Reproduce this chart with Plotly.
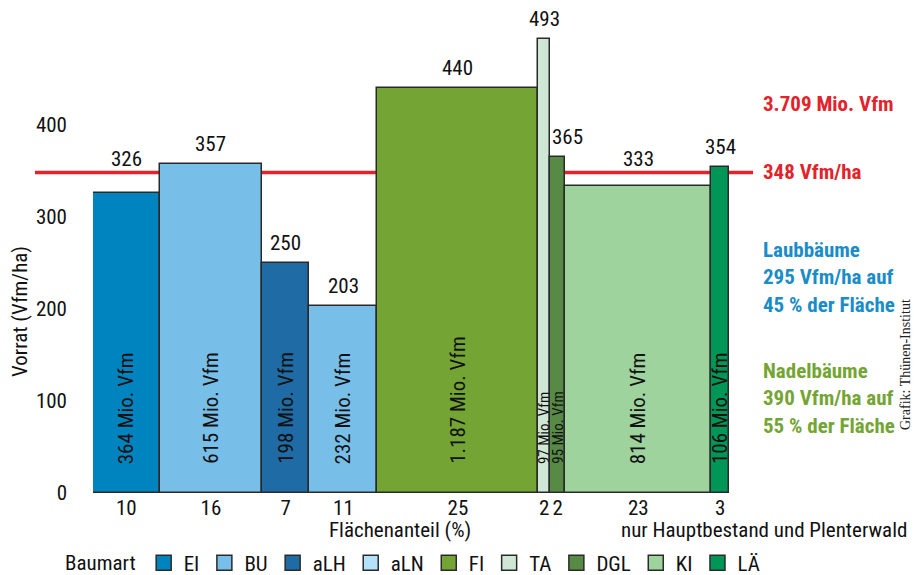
import plotly.graph_objects as go

# ---------------- data ----------------
species = ["EI", "BU", "aLH", "aLN", "FI", "TA", "DGL", "KI", "LÄ"]
vorrat_ha = [326, 357, 250, 203, 440, 493, 365, 333, 354]          # Vfm/ha
vorrat_mio = [364, 615, 198, 232, 1187, 97, 95, 814, 106]           # Mio. Vfm
vorrat_mio_text = ["364", "615", "198", "232", "1.187", "97", "95", "814", "106"]
flaeche_pct = [10, 16, 7, 11, 25, 2, 2, 23, 3]                      # Flächenanteil (%)
mittel_ha = 348
gesamt_text = "3.709 Mio. Vfm"
laub_text = ["Laubbäume", "295 Vfm/ha auf", "45 % der Fläche"]
nadel_text = ["Nadelbäume", "390 Vfm/ha auf", "55 % der Fläche"]
y_ticks = [0, 100, 200, 300, 400]

# ---------------- styles ----------------
bar_colors = ["#0084BF", "#77BEE8", "#1F6BA5", "#77BEE8", "#74A534",
              "#CFE8D6", "#578A45", "#9ED39D", "#009658"]
legend_colors = ["#0084BF", "#77BEE8", "#1F6BA5", "#B3E2FA", "#74A534",
                 "#CFE8D6", "#578A45", "#9ED39D", "#009658"]
RED = "#E3232B"
BLUE = "#1A8CC8"
GREEN = "#74A534"
FONT = "Liberation Sans Narrow, Arial Narrow, Roboto Condensed, DejaVu Sans Condensed, sans-serif"

# widths = area (Mio ha) = Mio Vfm / (Vfm/ha)
widths = [m / h for m, h in zip(vorrat_mio, vorrat_ha)]
lefts = []
acc = 0.0
for w in widths:
    lefts.append(acc)
    acc += w
total = acc
centers = [l + w / 2 for l, w in zip(lefts, widths)]

fig = go.Figure()
fig.add_trace(go.Bar(
    x=centers, y=vorrat_ha, width=widths,
    marker=dict(color=bar_colors, line=dict(color="#2a2a2a", width=1.5)),
    showlegend=False, hoverinfo="skip",
))

for name, col in zip(species, legend_colors):
    fig.add_trace(go.Scatter(
        x=[None], y=[None], mode="markers", name=name,
        marker=dict(symbol="square", size=15, color=col,
                    line=dict(color="#2a2a2a", width=1.5)),
    ))

annotations = []
# value labels above the bars
for i, (c, v) in enumerate(zip(centers, vorrat_ha)):
    y = v
    ys = 6
    if mittel_ha - 30 < v < mittel_ha:
        y = mittel_ha
        ys = -1
    xs = 10 if species[i] == "DGL" else 0
    annotations.append(dict(x=c, y=y, xref="x", yref="y", text=str(v),
                            showarrow=False, yanchor="bottom", yshift=ys, xshift=xs,
                            font=dict(size=21, color="#111", family=FONT)))
# vertical volume labels inside bars
for c, t, p in zip(centers, vorrat_mio_text, flaeche_pct):
    small = p <= 2
    annotations.append(dict(x=c, y=0, xref="x", yref="y", text=f"{t} Mio. Vfm",
                            showarrow=False, textangle=-90, yanchor="bottom",
                            yshift=27, font=dict(size=15 if small else 21,
                                                 color="#111", family=FONT)))

def px_x(p):
    return (p - 93) / 636.0

def px_y(p):
    return (493 - p) / 488.0

annotations += [
    dict(x=px_x(761), y=px_y(104), xref="paper", yref="paper", text=gesamt_text,
         showarrow=False, xanchor="left", yanchor="middle",
         font=dict(size=21, color=RED, family=FONT, weight="bold")),
    dict(x=px_x(761), y=mittel_ha, xref="paper", yref="y", text=f"{mittel_ha} Vfm/ha",
         showarrow=False, xanchor="left", yanchor="middle",
         font=dict(size=21, color=RED, family=FONT, weight="bold")),
    dict(x=px_x(761), y=px_y(278), xref="paper", yref="paper", text="<br>".join(laub_text),
         showarrow=False, xanchor="left", yanchor="middle", align="left",
         font=dict(size=21, color=BLUE, family=FONT, weight="bold")),
    dict(x=px_x(761), y=px_y(398), xref="paper", yref="paper", text="<br>".join(nadel_text),
         showarrow=False, xanchor="left", yanchor="middle", align="left",
         font=dict(size=21, color=GREEN, family=FONT, weight="bold")),
    dict(x=px_x(906), y=px_y(365), xref="paper", yref="paper", text="Grafik: Thünen-Institut",
         showarrow=False, textangle=-90, xanchor="center", yanchor="middle",
         font=dict(size=14, color="#222", family="Liberation Serif, serif")),
    dict(x=px_x(400), y=px_y(530), xref="paper", yref="paper", text="Flächenanteil (%)",
         showarrow=False, xanchor="center", yanchor="middle",
         font=dict(size=21, color="#111", family=FONT)),
    dict(x=px_x(619), y=px_y(530), xref="paper", yref="paper",
         text="nur Hauptbestand und Plenterwald",
         showarrow=False, xanchor="left", yanchor="middle",
         font=dict(size=21, color="#111", family=FONT)),
    dict(x=px_x(20), y=px_y(312), xref="paper", yref="paper", text="Vorrat (Vfm/ha)",
         showarrow=False, textangle=-90, xanchor="center", yanchor="middle",
         font=dict(size=21, color="#111", family=FONT)),
]

fig.add_shape(type="line", xref="paper", yref="y", x0=px_x(35), x1=px_x(753),
              y0=mittel_ha, y1=mittel_ha, line=dict(color=RED, width=3.5), layer="below")

fig.update_layout(
    width=914, height=575,
    margin=dict(l=93, r=185, t=5, b=82, autoexpand=False),
    paper_bgcolor="white", plot_bgcolor="white",
    font=dict(family=FONT, size=21, color="#111"),
    bargap=0,
    xaxis=dict(range=[0, total], tickvals=centers, ticktext=[str(p) for p in flaeche_pct],
               showgrid=False, zeroline=False, showline=False, ticks="",
               tickfont=dict(size=21, family=FONT, color="#111"), fixedrange=True),
    yaxis=dict(range=[0, 488 / 0.921], tickvals=y_ticks, showgrid=False, zeroline=False,
               showline=False, ticks="", ticklabelstandoff=25,
               tickfont=dict(size=21, family=FONT, color="#111"), fixedrange=True),
    legend=dict(orientation="h", x=px_x(63), y=px_y(563), xanchor="left", yanchor="middle",
                title=dict(text="Baumart", side="left", font=dict(size=21, family=FONT)),
                font=dict(size=21, family=FONT, color="#111"), bgcolor="rgba(0,0,0,0)"),
    annotations=annotations,
    showlegend=True,
)

fig.write_html("out.html")
